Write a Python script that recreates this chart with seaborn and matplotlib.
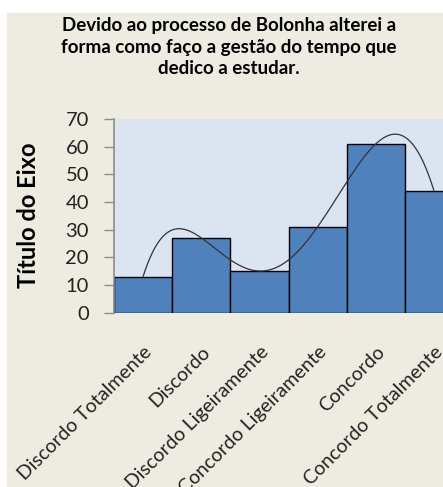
import numpy as np
import pandas as pd
import matplotlib
matplotlib.use("Agg")
import matplotlib.pyplot as plt
import seaborn as sns

# Survey answers and counts
categories = ["Discordo Totalmente", "Discordo", "Discordo Ligeiramente",
              "Concordo Ligeiramente", "Concordo", "Concordo Totalmente"]
counts = [13, 27, 15, 31, 61, 44]
y_ticks = [0, 10, 20, 30, 40, 50, 60, 70]

title = "Devido ao processo de Bolonha alterei a\nforma como faço a gestão do tempo que\ndedico a estudar."
y_label = "Título do Eixo"

sns.set_theme(style="white")
plt.rcParams["font.family"] = ["Lato", "DejaVu Sans"]

bg = "#EEECE1"
plot_bg = "#DBE5F1"
bar_color = "#4F81BD"

fig = plt.figure(figsize=(4.43, 4.87), dpi=100)
fig.patch.set_facecolor(bg)
# white margins along the top and left edges
fig.add_artist(plt.Rectangle((0, 1 - 13 / 487), 1, 13 / 487, transform=fig.transFigure,
                             facecolor="white", edgecolor="none", zorder=0))
fig.add_artist(plt.Rectangle((0, 0), 7 / 443, 1, transform=fig.transFigure,
                             facecolor="white", edgecolor="none", zorder=0))

ax = fig.add_axes([114 / 443, 1 - 312.5 / 487, 1 - 114 / 443, (312.5 - 119) / 487])
ax.set_facecolor(plot_bg)

df = pd.DataFrame({"categoria": categories, "n": counts})
sns.barplot(data=df, x="categoria", y="n", color=bar_color, width=1.0,
            edgecolor="black", linewidth=1.0, saturation=1, ax=ax, zorder=2)

# polynomial trendline (order 5) through the bar values
xs = np.arange(len(counts))
coef = np.polyfit(xs, counts, 5)
xf = np.linspace(0, len(counts) - 1, 300)
trend = pd.DataFrame({"x": xf, "y": np.polyval(coef, xf)})
sns.lineplot(data=trend, x="x", y="y", color="#333333", linewidth=0.9, ax=ax, zorder=3)

ax.set_xlim(-0.5, 5.155)
ax.set_ylim(0, 70)
ax.set_yticks(y_ticks)
ax.set_yticklabels([str(v) for v in y_ticks], fontsize=14.5, color="#222222")
ax.set_xticks(xs)
ax.set_xticklabels(categories, rotation=45, ha="right", rotation_mode="anchor",
                   fontsize=14, color="#222222")
ax.tick_params(axis="x", length=0, pad=22)
ax.tick_params(axis="y", length=7, width=1, color="#8c8c8c", pad=11, left=True)
ax.set_xlabel("")
ax.set_ylabel("")

for s in ["top", "right", "bottom"]:
    ax.spines[s].set_visible(False)
ax.spines["left"].set_color("#8c8c8c")
ax.spines["left"].set_linewidth(1.2)

fig.text(29 / 443, 1 - 215 / 487, y_label, rotation=90, ha="center", va="center",
         fontsize=17, fontweight="bold", color="black")
fig.text(229 / 443, 1 - 47 / 487, title, ha="center", va="center",
         fontsize=13.5, fontweight="bold", color="black", linespacing=1.3)

fig.savefig("out.png", dpi=100, facecolor=bg)
